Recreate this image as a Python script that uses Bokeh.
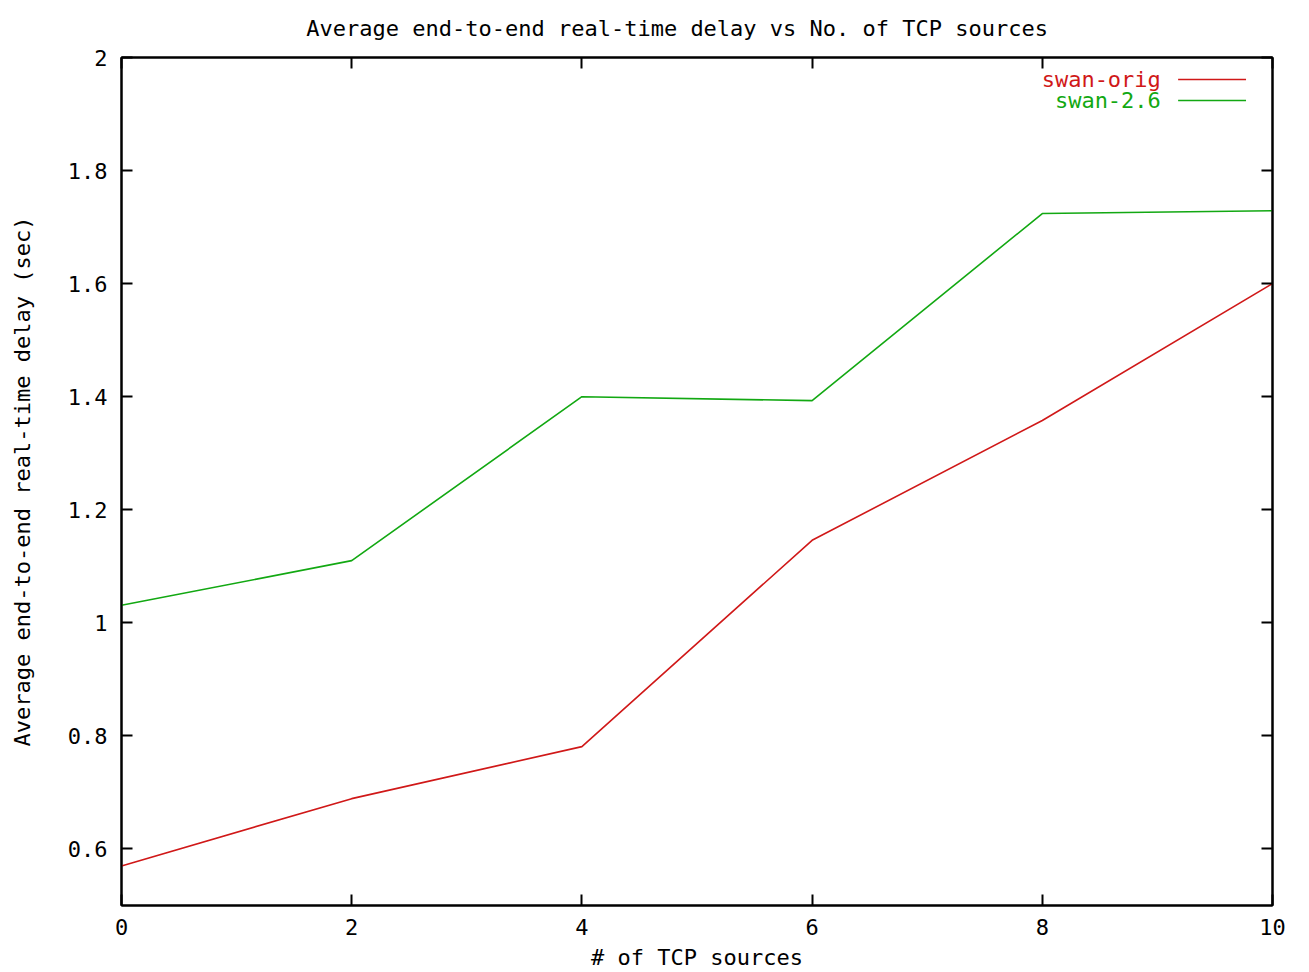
from bokeh.plotting import figure
from bokeh.models import LinearAxis, FixedTicker, Label, Arrow, Range1d
from bokeh.embed import file_html
from bokeh.resources import INLINE

# ---- data ----
x_sources = [0, 2, 4, 6, 8, 10]
swan_orig = [0.570, 0.689, 0.781, 1.146, 1.358, 1.600]
swan_26 = [1.031, 1.110, 1.400, 1.393, 1.724, 1.729]
series_names = ["swan-orig", "swan-2.6"]
x_ticks = [0, 2, 4, 6, 8, 10]
x_tick_labels = ["0", "2", "4", "6", "8", "10"]
y_ticks = [0.6, 0.8, 1.0, 1.2, 1.4, 1.6, 1.8, 2.0]
y_tick_labels = ["0.6", "0.8", "1", "1.2", "1.4", "1.6", "1.8", "2"]
title_text = "Average end-to-end real-time  delay  vs  No. of TCP sources"
x_label = "# of TCP sources"
y_label = "Average end-to-end real-time delay (sec)"

# ---- style ----
FONT = "DejaVu Sans Mono"
FS = "22px"
RED = "#d01818"
GREEN = "#12a812"

p = figure(width=1309, height=972, output_backend="svg", toolbar_location=None,
           x_range=Range1d(0, 10), y_range=Range1d(0.5, 2.0),
           min_border_left=121, min_border_right=37, min_border_top=57, min_border_bottom=67)

p.title.text = title_text
p.title.align = "center"
p.title.vertical_align = "top"
p.title.text_font = FONT
p.title.text_font_size = FS
p.title.text_font_style = "normal"
p.title.text_color = "black"
p.title.text_line_height = 0.6
p.title.standoff = 30

p.xgrid.visible = False
p.ygrid.visible = False
p.background_fill_color = "white"
p.border_fill_color = "white"
p.outline_line_color = "black"
p.outline_line_width = 2

def style_axis(ax, ticks, labels, show_labels):
    ax.ticker = FixedTicker(ticks=ticks)
    ax.major_label_overrides = {t: l for t, l in zip(ticks, labels)}
    ax.major_tick_in = 11
    ax.major_tick_out = 0
    ax.minor_tick_line_color = None
    ax.major_tick_line_color = "black"
    ax.major_tick_line_width = 2
    ax.axis_line_color = "black"
    ax.axis_line_width = 2
    ax.major_label_text_font = FONT
    ax.major_label_text_font_size = FS
    ax.major_label_text_color = "black"
    ax.axis_label_text_font = FONT
    ax.axis_label_text_font_size = FS
    ax.axis_label_text_font_style = "normal"
    ax.axis_label_text_color = "black"
    if not show_labels:
        ax.major_label_text_font_size = "0px"
        ax.major_label_text_color = None
        ax.major_label_standoff = 0

xa = p.xaxis[0]
style_axis(xa, x_ticks, x_tick_labels, True)
xa.axis_label = x_label
xa.major_label_standoff = 13
xa.axis_label_standoff = 7

ya = p.yaxis[0]
style_axis(ya, y_ticks, y_tick_labels, True)
ya.axis_label = y_label
ya.major_label_standoff = 14
ya.axis_label_standoff = 30

top = LinearAxis()
style_axis(top, x_ticks, x_tick_labels, False)
p.add_layout(top, "above")
right = LinearAxis()
style_axis(right, y_ticks, y_tick_labels, False)
p.add_layout(right, "right")

p.line(x_sources, swan_orig, line_color=RED, line_width=1.6)
p.line(x_sources, swan_26, line_color=GREEN, line_width=1.6)

# ---- key (gnuplot style: text right-aligned, sample line to its right) ----
key_text_x = 9.03
key_line_x0 = 9.18
key_line_x1 = 9.77
key_rows_y = [1.961, 1.924]
for name, col, ky in zip(series_names, [RED, GREEN], key_rows_y):
    p.add_layout(Label(x=key_text_x, y=ky, text=name, text_align="right",
                       text_baseline="middle", text_font=FONT, text_font_size=FS,
                       text_color=col))
    p.add_layout(Arrow(x_start=key_line_x0, y_start=ky, x_end=key_line_x1, y_end=ky,
                       start=None, end=None, line_color=col, line_width=1.6))

open("out.html", "w").write(file_html(p, INLINE))
